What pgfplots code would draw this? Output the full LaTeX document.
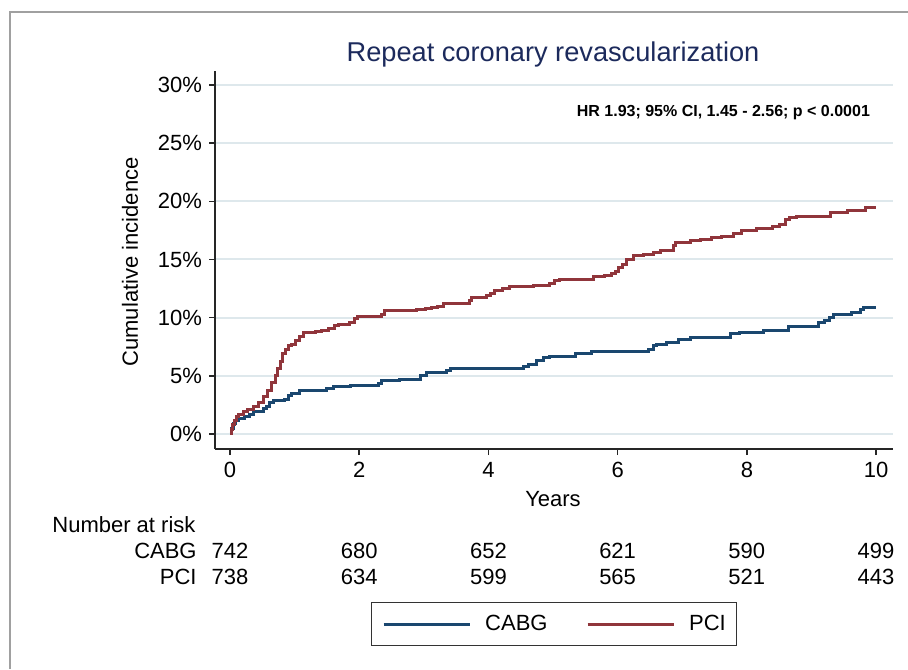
\documentclass[border=0pt]{standalone}
\usepackage{fontspec}
\setmainfont{Liberation Sans}
\usepackage{pgfplots}
\pgfplotsset{compat=1.18}

\definecolor{kmnavy}{RGB}{26,71,111}
\definecolor{kmmaroon}{RGB}{144,53,59}
\definecolor{ttlnavy}{RGB}{28,42,92}
\definecolor{gridc}{RGB}{222,232,236}
\definecolor{framec}{RGB}{160,160,160}

\newcommand{\lbl}{\fontsize{11}{13}\selectfont}

\begin{document}
\begin{tikzpicture}
\useasboundingbox (0,0) rectangle (454pt,334.5pt);

\begin{axis}[
    at={(107.5pt,110pt)}, anchor=south west,
    scale only axis, width=339pt, height=189pt,
    xmin=-0.23, xmax=10.26, ymin=-1.29, ymax=31.2,
    axis x line*=bottom, axis y line*=left,
    axis line style={black!85, line width=0.75pt},
    xtick={0,2,...,10}, ytick={0,5,...,30},
    yticklabel={\pgfmathprintnumber{\tick}\%},
    tick align=outside, major tick length=3pt,
    tick style={black!85, line width=0.75pt},
    ymajorgrids, grid style={gridc, line width=1pt},
    ticklabel style={font=\lbl},
    /pgf/number format/assume math mode=true,
    clip=false,
    legend columns=2,
    legend style={at={(0.5,-0.463)}, anchor=center, draw=black!80,
        line width=0.6pt, font=\lbl, inner xsep=5.5pt, inner ysep=6.2pt,
        nodes={inner xsep=0pt, inner ysep=0pt},
        /tikz/every odd column/.append style={column sep=7pt},
        /tikz/every even column/.append style={column sep=19.3pt}},
    legend image code/.code={\draw[#1] (0pt,0pt) -- (43pt,0pt);},
]
% CABG
\addplot[const plot, kmnavy, line width=1.5pt] coordinates {
(0,0) (0.02,0.5) (0.05,0.9) (0.09,1.2) (0.13,1.35) (0.23,1.5) (0.30,1.7)
(0.36,1.9) (0.52,2.2) (0.57,2.4) (0.62,2.7) (0.67,2.9) (0.85,3.0) (0.90,3.3)
(0.95,3.5) (1.08,3.7) (1.50,3.9) (1.60,4.1) (1.86,4.15) (2.30,4.3) (2.35,4.6)
(2.63,4.7) (2.95,5.0) (3.04,5.3) (3.35,5.5) (3.41,5.65) (4.54,5.8) (4.62,6.0)
(4.75,6.3) (4.85,6.55) (4.95,6.7) (5.34,6.9) (5.60,7.1) (6.48,7.3) (6.55,7.6)
(6.60,7.7) (6.76,7.9) (6.94,8.15) (7.12,8.3) (7.74,8.6) (7.89,8.7) (8.26,8.9)
(8.64,9.25) (9.11,9.55) (9.20,9.75) (9.27,10.0) (9.34,10.3) (9.62,10.45)
(9.75,10.7) (9.80,10.9) (10.0,10.9)
};
% PCI
\addplot[const plot, kmmaroon, line width=1.5pt] coordinates {
(0,0) (0.02,0.4) (0.04,0.8) (0.07,1.2) (0.10,1.5) (0.14,1.7) (0.21,1.9)
(0.28,2.1) (0.36,2.4) (0.44,2.7) (0.52,3.2) (0.58,3.7) (0.65,4.4) (0.70,5.0)
(0.74,5.6) (0.78,6.2) (0.82,6.9) (0.86,7.3) (0.90,7.6) (0.95,7.7) (1.02,8.0)
(1.08,8.4) (1.14,8.7) (1.32,8.8) (1.42,8.9) (1.52,9.1) (1.62,9.3) (1.68,9.45)
(1.85,9.6) (1.93,9.9) (1.98,10.1) (2.34,10.3) (2.40,10.6) (2.89,10.7)
(3.02,10.8) (3.12,10.9) (3.22,11.0) (3.30,11.2) (3.70,11.5) (3.74,11.7)
(3.97,11.9) (4.04,12.1) (4.10,12.3) (4.22,12.5) (4.33,12.7) (4.69,12.8)
(4.95,12.9) (5.03,13.2) (5.10,13.3) (5.62,13.5) (5.80,13.6) (5.90,13.8)
(5.96,14.0) (6.02,14.3) (6.08,14.6) (6.14,15.0) (6.24,15.3) (6.40,15.4)
(6.55,15.6) (6.66,15.8) (6.87,16.2) (6.89,16.5) (7.12,16.6) (7.28,16.75)
(7.45,16.85) (7.60,17.0) (7.79,17.2) (7.92,17.5) (8.15,17.7) (8.40,17.8)
(8.50,18.0) (8.59,18.4) (8.66,18.6) (8.77,18.7) (9.30,19.0) (9.55,19.2)
(9.83,19.5) (10.0,19.5)
};
\legend{CABG, PCI}
\end{axis}

% text and frame, in pixel units of the 908x669 reference
\begin{scope}[x=0.5pt, y=-0.5pt, shift={(0,334.5pt)}]
  \draw[framec, line width=1pt] (10,669) -- (10,12) -- (908,12);
  \node[text=ttlnavy, font=\fontsize{13.6}{16}\selectfont] at (553,54)
    {Repeat coronary revascularization};
  \node[anchor=east, font=\fontsize{8}{10}\selectfont\bfseries] at (877,113)
    {HR 1.93; 95\% CI, 1.45 - 2.56; p < 0.0001};
  \node[rotate=90, font=\lbl] at (130,262) {Cumulative incidence};
  \node[font=\lbl] at (553,499) {Years};
  \node[anchor=west, font=\lbl, inner sep=0pt] at (52,525) {Number at risk};
  \node[anchor=east, font=\lbl, inner sep=0pt] at (197,551) {CABG};
  \node[anchor=east, font=\lbl, inner sep=0pt] at (197,577) {PCI};
  \foreach \k/\a/\b in {0/742/738, 1/680/634, 2/652/599, 3/621/565, 4/590/521, 5/499/443} {
    \node[font=\lbl] at (230+129.2*\k,551) {\a};
    \node[font=\lbl] at (230+129.2*\k,577) {\b};
  }
\end{scope}
\end{tikzpicture}
\end{document}
